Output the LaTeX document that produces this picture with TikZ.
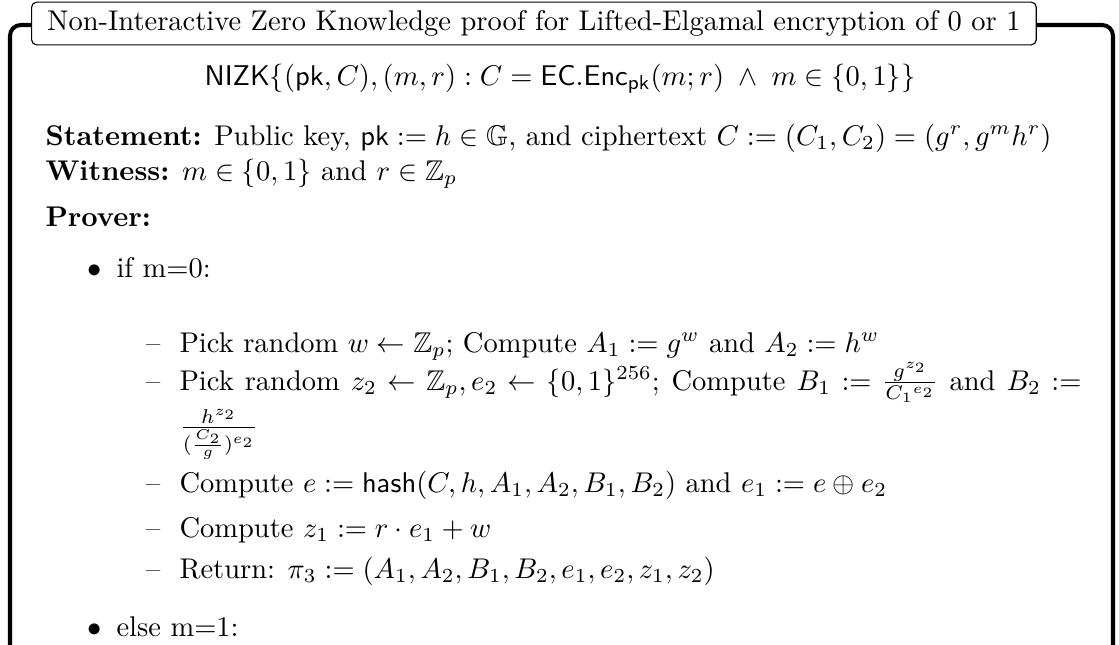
\documentclass[tikz,border=0pt]{standalone}
\usepackage{amssymb}
\begin{document}
\begin{tikzpicture}[x=0.3509pt, y=-0.3509pt,
  frame/.style={line width=1.42pt, rounded corners=3.8pt},
  titlebox/.style={draw, line width=0.4pt, rounded corners=1.8pt, fill=white,
     inner xsep=5.5pt, inner ysep=0pt, minimum height=15pt, anchor=west},
  txt/.style={inner sep=0pt, anchor=base west},
  lbl/.style={inner sep=0pt, anchor=base east}]
\useasboundingbox (0,0) rectangle (1119,645);
\clip (0,0) rectangle (1119,645);
% outer frame, running on past the lower edge
\draw[frame] (10,700) -- (10,25) -- (1113,25) -- (1113,700);
\node[titlebox] (title) at (31,23.5)
  {Non-Interactive Zero Knowledge proof for Lifted-Elgamal encryption of 0 or 1};
% relation being proved
\node[txt, anchor=base] (nizk) at (560,85)
  {$\mathsf{NIZK}\{(\mathsf{pk},C),(m,r): C=\mathsf{EC.Enc}_{\mathsf{pk}}(m;r)\;\wedge\; m\in\{0,1\}\}$};
% statement and witness
\node[txt] (stmt) at (45,145)
  {\textbf{Statement:} Public key, $\mathsf{pk} := h \in \mathbb{G}$, and ciphertext $C := (C_1, C_2) = (g^r, g^m h^r)$};
\node[txt] (wit) at (45,180)
  {\textbf{Witness:} $m \in \{0,1\}$ and $r \in \mathbb{Z}_p$};
\node[txt] (prov) at (45,226) {\textbf{Prover:}};
% first case
\node[lbl] (b1) at (102,277) {$\bullet$};
\node[txt] (case0) at (116,277) {if m=0:};
\node[lbl] (d1) at (161,352) {\textendash};
\node[txt] (s1) at (179,352)
  {Pick random $w \leftarrow \mathbb{Z}_p$; Compute $A_1 := g^w$ and $A_2 := h^w$};
\node[lbl] (d2) at (161,390) {\textendash};
\node[txt] (s2) at (179,390)
  {\makebox[316.5pt][s]{Pick random $z_2 \leftarrow \mathbb{Z}_p, e_2 \leftarrow \{0,1\}^{256}$; Compute $B_1 := \frac{g^{z_2}}{{C_1}^{e_2}}$ and $B_2 :=$}};
\node[txt] (s2b) at (179,435) {$\frac{h^{z_2}}{(\frac{C_2}{g})^{e_2}}$};
\node[lbl] (d3) at (161,492) {\textendash};
\node[txt] (s3) at (179,492)
  {Compute $e := \mathsf{hash}(C, h, A_1, A_2, B_1, B_2)$ and $e_1 := e \oplus e_2$};
\node[lbl] (d4) at (161,537) {\textendash};
\node[txt] (s4) at (179,537) {Compute $z_1 := r \cdot e_1 + w$};
\node[lbl] (d5) at (161,578) {\textendash};
\node[txt] (s5) at (179,578)
  {Return: $\pi_3 := (A_1, A_2, B_1, B_2, e_1, e_2, z_1, z_2)$};
% second case
\node[lbl] (b2) at (102,636) {$\bullet$};
\node[txt] (case1) at (116,636) {else m=1:};
\end{tikzpicture}
\end{document}
